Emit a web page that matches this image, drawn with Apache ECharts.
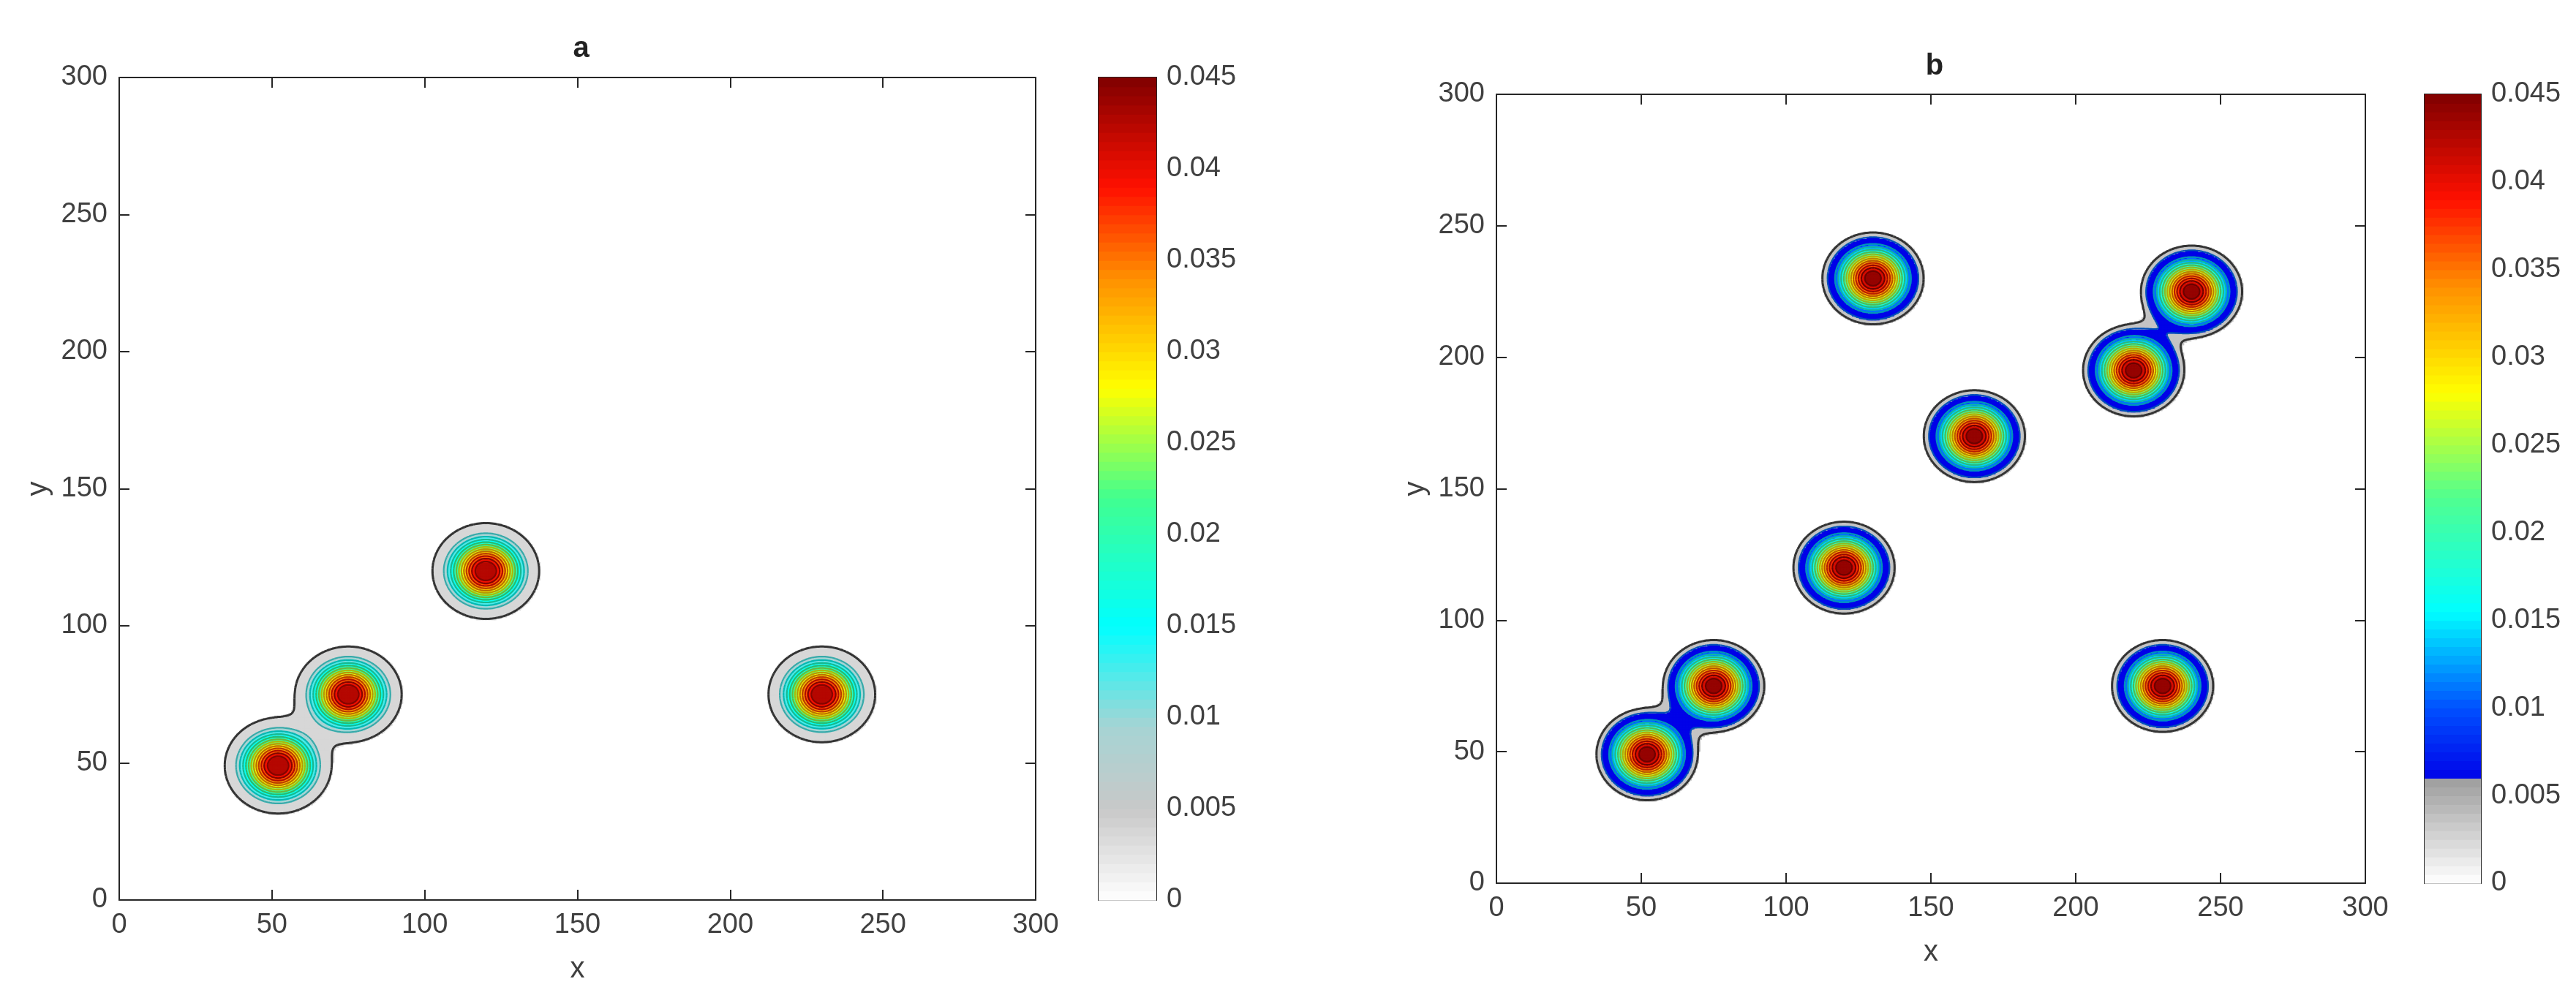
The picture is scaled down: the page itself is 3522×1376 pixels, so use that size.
<!DOCTYPE html>
<html>
<head>
<meta charset="utf-8">
<script src="https://cdn.jsdelivr.net/npm/echarts@6/dist/echarts.min.js"></script>
<style>html,body{margin:0;background:#fff}#main{width:3522px;height:1376px}</style>
</head>
<body>
<div id="main"></div>
<script>
// 峰的位置
var peaksAX = [52, 75, 120, 230];
var peaksAY = [49, 75, 120, 75];
var peaksBX = [52, 75, 120, 165, 220, 240, 130, 230];
var peaksBY = [49, 75, 120, 170, 195, 225, 230, 75];
var peakHeight = 0.047;
var peakSigma = 7.7;
// 等值线
var levelsA = [0.0036, 0.0095, 0.0125, 0.0155, 0.0185, 0.0215, 0.0245, 0.0275, 0.0305, 0.0335, 0.0365, 0.0395, 0.0425];
var levelsB = [0.0036, 0.0059, 0.0110, 0.0140, 0.0170, 0.0200, 0.0230, 0.0260, 0.0290, 0.0320, 0.0350, 0.0380, 0.0410, 0.0440];
// 色图
var cmapA = [[0, '#ffffff'], [0.005, '#c8c8c8'], [0.0095, '#a6d4d4'], [0.015, '#00ffff'], [0.022, '#40ff90'],
             [0.028, '#ffff00'], [0.034, '#ff9000'], [0.039, '#ff1000'], [0.045, '#800000']];
var cmapB = [[0, '#ffffff'], [0.0058, '#a0a0a0'], [0.00582, '#0000e8'], [0.01, '#0050ff'], [0.0155, '#00ffff'],
             [0.022, '#50ff90'], [0.028, '#ffff00'], [0.034, '#ff9000'], [0.039, '#ff1000'], [0.045, '#800000']];
var cbarTicks = [0, 0.005, 0.01, 0.015, 0.02, 0.025, 0.03, 0.035, 0.04, 0.045];

var STEP = 0.5, N = 600;

function hex(c) { return [parseInt(c.substr(1,2),16), parseInt(c.substr(3,2),16), parseInt(c.substr(5,2),16)]; }
function rgbAt(cmap, v) {
    if (v <= cmap[0][0]) return hex(cmap[0][1]);
    for (var i = 1; i < cmap.length; i++) {
        if (v <= cmap[i][0]) {
            var a = hex(cmap[i-1][1]), b = hex(cmap[i][1]);
            var t = (v - cmap[i-1][0]) / (cmap[i][0] - cmap[i-1][0]);
            return [a[0]+(b[0]-a[0])*t, a[1]+(b[1]-a[1])*t, a[2]+(b[2]-a[2])*t];
        }
    }
    return hex(cmap[cmap.length-1][1]);
}
function colorAt(cmap, v, k) {
    var c = rgbAt(cmap, v); k = k || 1;
    return 'rgb(' + Math.round(c[0]*k) + ',' + Math.round(c[1]*k) + ',' + Math.round(c[2]*k) + ')';
}
// 所在的等值带的下界
function bandValue(levels, v) {
    var b = levels[0];
    for (var i = 0; i < levels.length; i++) if (v >= levels[i]) b = levels[i];
    return b;
}

function field(px, py) {
    var g = [];
    for (var j = 0; j <= N; j++) {
        var row = [];
        for (var i = 0; i <= N; i++) {
            var x = i * STEP, y = j * STEP, s = 0;
            for (var k = 0; k < px.length; k++) {
                var dx = x - px[k], dy = y - py[k];
                s += peakHeight * Math.exp(-(dx*dx + dy*dy) / (2 * peakSigma * peakSigma));
            }
            row.push(s);
        }
        g.push(row);
    }
    return g;
}

function cells(g, levels) {
    var d = [];
    for (var j = 0; j <= N; j++) for (var i = 0; i <= N; i++)
        if (g[j][i] >= levels[0] * 0.9) d.push([i * STEP, j * STEP, bandValue(levels, g[j][i])]);
    return d;
}

// marching squares -> 线段
function contourSegs(g, lv) {
    var segs = [];
    function interp(x1, y1, v1, x2, y2, v2) { var t = (lv - v1) / (v2 - v1); return [x1 + (x2 - x1) * t, y1 + (y2 - y1) * t]; }
    for (var j = 0; j < N; j++) for (var i = 0; i < N; i++) {
        var x0 = i * STEP, y0 = j * STEP, x1 = x0 + STEP, y1 = y0 + STEP;
        var a = g[j][i], b = g[j][i+1], c = g[j+1][i+1], d = g[j+1][i];
        var pts = [];
        if ((a >= lv) !== (b >= lv)) pts.push(interp(x0, y0, a, x1, y0, b));
        if ((b >= lv) !== (c >= lv)) pts.push(interp(x1, y0, b, x1, y1, c));
        if ((c >= lv) !== (d >= lv)) pts.push(interp(x1, y1, c, x0, y1, d));
        if ((d >= lv) !== (a >= lv)) pts.push(interp(x0, y1, d, x0, y0, a));
        if (pts.length >= 2) segs.push([pts[0], pts[1]]);
        if (pts.length === 4) segs.push([pts[2], pts[3]]);
    }
    return segs;
}

var gA = field(peaksAX, peaksAY), gB = field(peaksBX, peaksBY);

var font = 'Liberation Sans, Arial, sans-serif';
var axisCol = '#262626', labCol = '#404040';

function mainAxes(gi, pos, show) {
    return {
        type: 'value', gridIndex: gi, min: 0, max: 300, interval: 50, position: pos,
        axisLine: { show: true, onZero: false, lineStyle: { color: axisCol, width: 2 } },
        axisTick: { show: true, inside: true, length: 14, lineStyle: { color: axisCol, width: 2 } },
        axisLabel: { show: show, color: labCol, fontSize: 38, fontFamily: font, margin: 16 },
        splitLine: { show: false }
    };
}

function fieldSeries(idx, g, levels, cmap) {
    return {
        type: 'custom', xAxisIndex: idx, yAxisIndex: idx, data: cells(g, levels),
        progressive: 0, silent: true, z: 1,
        renderItem: function (p, api) {
            var c = api.coord([api.value(0) - STEP / 2, api.value(1) + STEP / 2]);
            var s = api.size([STEP, STEP]);
            return { type: 'rect', shape: { x: c[0], y: c[1], width: s[0] + 0.8, height: s[1] + 0.8 },
                     style: { fill: colorAt(cmap, api.value(2)) } };
        }
    };
}

function contourSeries(idx, g, levels, cmap) {
    var segsByLevel = levels.map(function (lv) { return contourSegs(g, lv); });
    return {
        type: 'custom', xAxisIndex: idx, yAxisIndex: idx, silent: true, z: 2,
        data: levels.map(function (lv, k) { return [k, lv]; }),
        renderItem: function (p, api) {
            var k = api.value(0), lv = api.value(1), segs = segsByLevel[k], d = '';
            for (var s = 0; s < segs.length; s++) {
                var a = api.coord(segs[s][0]), b = api.coord(segs[s][1]);
                d += 'M' + a[0].toFixed(1) + ' ' + a[1].toFixed(1) + 'L' + b[0].toFixed(1) + ' ' + b[1].toFixed(1);
            }
            var nxt = levels[Math.min(k + 1, levels.length - 1)];
            return { type: 'path', shape: { pathData: d },
                     style: { fill: null, stroke: k === 0 ? '#333' : colorAt(cmap, nxt, 0.72), lineWidth: k === 0 ? 3 : 2.2 } };
        }
    };
}

function cbarData() {
    var d = [];
    for (var v = 0; v < 0.045; v += 0.0005) d.push([v, v + 0.0005]);
    return d;
}

function cbarSeries(idx, cmap) {
    return {
        type: 'custom', xAxisIndex: idx, yAxisIndex: idx, data: cbarData(), silent: true,
        renderItem: function (p, api) {
            var a = api.coord([0, api.value(1)]), b = api.coord([1, api.value(0)]);
            return { type: 'rect', shape: { x: a[0], y: a[1], width: b[0] - a[0], height: b[1] - a[1] + 0.8 },
                     style: { fill: colorAt(cmap, (api.value(0) + api.value(1)) / 2) } };
        }
    };
}

var grids = [
    { left: 163, width: 1253, top: 106, height: 1125 },
    { left: 1502, width: 79, top: 106, height: 1125 },
    { left: 2046, width: 1188, top: 129, height: 1079 },
    { left: 3315, width: 77, top: 129, height: 1079 }
];

var xAxes = [], yAxes = [];
[0, 2].forEach(function (gi) {
    var xa = mainAxes(gi, 'bottom', true); xa.name = 'x'; xa.nameLocation = 'middle'; xa.nameGap = 75;
    xa.nameTextStyle = { color: labCol, fontSize: 40, fontFamily: font };
    var ya = mainAxes(gi, 'left', true); ya.name = 'y'; ya.nameLocation = 'middle'; ya.nameGap = 90;
    ya.nameTextStyle = { color: labCol, fontSize: 40, fontFamily: font };
    xAxes[gi] = xa; yAxes[gi] = ya;
});
[1, 3].forEach(function (gi) {
    xAxes[gi] = { type: 'value', gridIndex: gi, min: 0, max: 1, show: true,
        axisLine: { show: true, onZero: false, lineStyle: { color: axisCol, width: 2 } },
        axisTick: { show: false }, axisLabel: { show: false }, splitLine: { show: false } };
    yAxes[gi] = { type: 'value', gridIndex: gi, min: 0, max: 0.045, interval: 0.005, position: 'right',
        axisLine: { show: true, onZero: false, lineStyle: { color: axisCol, width: 2 } },
        axisTick: { show: true, inside: true, length: 10, lineStyle: { color: axisCol, width: 2 } },
        axisLabel: { color: labCol, fontSize: 38, fontFamily: font, margin: 14,
            formatter: function (v) { var s = cbarTicks.filter(function (t) { return Math.abs(t - v) < 1e-9; }); return s.length ? String(+v.toFixed(3)) : ''; } },
        splitLine: { show: false } };
});
// 顶边、右边、colorbar 左边和顶边
var extraX = [], extraY = [];
[0, 2].forEach(function (gi) {
    extraX.push(mainAxes(gi, 'top', false));
    extraY.push(mainAxes(gi, 'right', false));
});
[1, 3].forEach(function (gi) {
    extraX.push({ type: 'value', gridIndex: gi, min: 0, max: 1, position: 'top',
        axisLine: { show: true, onZero: false, lineStyle: { color: axisCol, width: 2 } },
        axisTick: { show: false }, axisLabel: { show: false }, splitLine: { show: false } });
    extraY.push({ type: 'value', gridIndex: gi, min: 0, max: 0.045, position: 'left',
        axisLine: { show: true, onZero: false, lineStyle: { color: axisCol, width: 2 } },
        axisTick: { show: false }, axisLabel: { show: false }, splitLine: { show: false } });
});

var myChart = echarts.init(document.getElementById('main'));
var option = {
    backgroundColor: '#fff',
    animation: false,
    title: [
        { text: 'a', left: 163 + 1253 / 2, top: 42, textAlign: 'center', textStyle: { fontSize: 40, fontWeight: 'bold', color: '#222', fontFamily: font } },
        { text: 'b', left: 2046 + 1188 / 2, top: 66, textAlign: 'center', textStyle: { fontSize: 40, fontWeight: 'bold', color: '#222', fontFamily: font } }
    ],
    grid: grids,
    xAxis: xAxes.concat(extraX),
    yAxis: yAxes.concat(extraY),
    series: [
        fieldSeries(0, gA, levelsA, cmapA),
        contourSeries(0, gA, levelsA, cmapA),
        cbarSeries(1, cmapA),
        fieldSeries(2, gB, levelsB, cmapB),
        contourSeries(2, gB, levelsB, cmapB),
        cbarSeries(3, cmapB)
    ]
};
myChart.setOption(option);
</script>
</body>
</html>
